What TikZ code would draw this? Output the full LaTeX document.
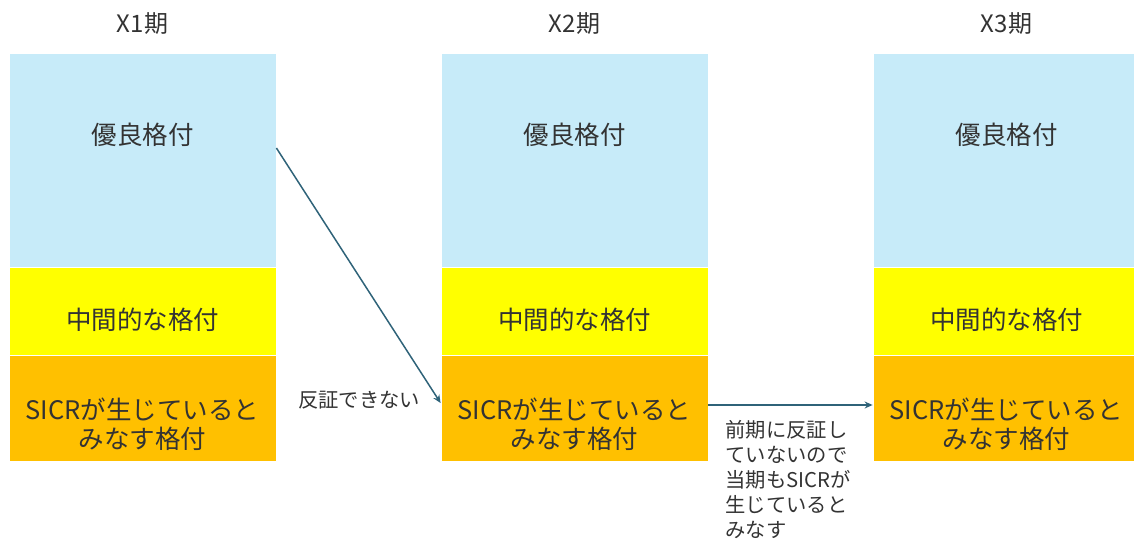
\documentclass[tikz,border=0pt]{standalone}
\usepackage{fontspec}
\setmainfont{Noto Sans CJK JP}
\usetikzlibrary{arrows.meta,positioning}
\definecolor{cblue}{HTML}{C7EBF9}
\definecolor{cyel}{HTML}{FFFF00}
\definecolor{corg}{HTML}{FFC000}
\definecolor{arr}{HTML}{2F6379}
\definecolor{txt}{HTML}{333333}
\tikzset{
  band/.style={draw=white,line width=0.8pt,minimum width=267pt,inner sep=0pt},
  good/.style={band,fill=cblue,minimum height=214pt},
  mid/.style={band,fill=cyel,minimum height=88pt},
  sicr/.style={band,fill=corg,minimum height=106pt},
  btext/.style={text=txt,font=\fontsize{25.5}{29}\selectfont,align=center,inner sep=0pt},
  title/.style={text=txt,font=\fontsize{24}{28}\selectfont},
  lbl/.style={text=txt,font=\fontsize{20.3}{25}\selectfont},
  conn/.style={draw=arr,line width=1.5pt,-{Stealth[length=8pt,width=7pt]}}
}
\begin{document}
\begin{tikzpicture}[x=1pt,y=-1pt]
\useasboundingbox (0,0) rectangle (1134,539);
\foreach \i/\x in {1/142.5,2/574.5,3/1006.5}{
  \node[good] (b\i) at (\x,160) {};
  \node[mid] (m\i) at (\x,311) {};
  \node[sicr] (o\i) at (\x,408) {};
  \node[btext] (bt\i) at ([yshift=25pt]b\i.center) {優良格付};
  \node[btext] (mt\i) at ([yshift=-9pt]m\i.center) {中間的な格付};
  \node[btext] (ot\i) at ([yshift=-16pt]o\i.center) {SICRが生じていると\\みなす格付};
  \node[title] (t\i) at (\x,24) {X\i 期};
}
\draw[conn] ([yshift=12pt]b1.east) -- ([yshift=5pt]o2.west);
\draw[conn] ([yshift=3pt]o2.east) -- ([yshift=3pt]o3.west);
\node[lbl] (l1) at (359,400) {反証できない};
\node[lbl,align=left,anchor=north west] (l2) at (722,417) {前期に反証し\\ていないので\\当期もSICRが\\生じていると\\みなす};
\end{tikzpicture}
\end{document}
